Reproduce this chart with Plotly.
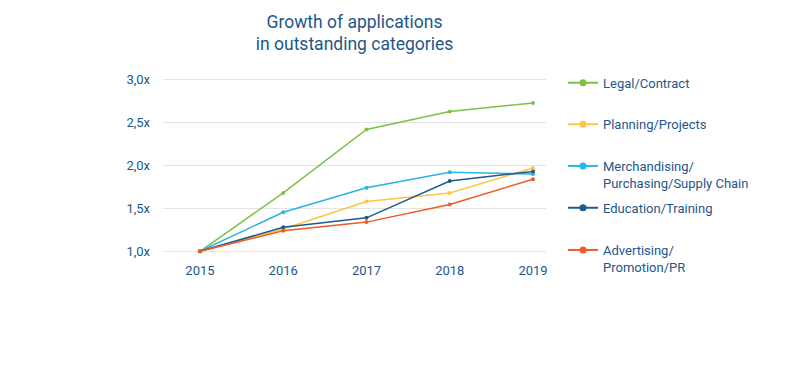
import plotly.graph_objects as go

years = [2015, 2016, 2017, 2018, 2019]
series_names = [
    "Legal/Contract",
    "Planning/Projects",
    "Merchandising/<br>Purchasing/Supply Chain",
    "Education/Training",
    "Advertising/<br>Promotion/PR",
]
legal = [1.0, 1.68, 2.42, 2.63, 2.73]
planning = [1.0, 1.26, 1.58, 1.68, 1.97]
merch = [1.0, 1.455, 1.74, 1.92, 1.90]
education = [1.0, 1.28, 1.39, 1.82, 1.93]
advertising = [1.0, 1.24, 1.34, 1.545, 1.84]
values = [legal, planning, merch, education, advertising]
colors = ["#7dc242", "#fdc542", "#29b4ea", "#1c5b8c", "#f05a24"]

text_color = "#1d578a"
font_family = "Roboto"

legend_y = [0.826, 0.719, 0.6118, 0.5046, 0.3959]

fig = go.Figure()
for i, (name, vals, col) in enumerate(zip(series_names, values, colors)):
    lg = "legend" if i == 0 else f"legend{i+1}"
    fig.add_trace(go.Scatter(
        x=years, y=vals, mode="lines+markers", name=name.replace("<br>", ""),
        line=dict(color=col, width=1.5), marker=dict(color=col, size=4),
        legendgroup=f"g{i}", showlegend=False, cliponaxis=False,
    ))
    # legend sample (no data points of its own)
    fig.add_trace(go.Scatter(
        x=[None], y=[None], mode="lines+markers", name=name,
        line=dict(color=col, width=2), marker=dict(color=col, size=7),
        legendgroup=f"g{i}", showlegend=True, legend=lg, hoverinfo="skip",
    ))

layout_legends = {}
for i, ly in enumerate(legend_y):
    key = "legend" if i == 0 else f"legend{i+1}"
    layout_legends[key] = dict(
        xref="container", yref="container",
        x=0.70375, xanchor="left", y=ly, yanchor="top",
        valign="top", bgcolor="rgba(0,0,0,0)",
        font=dict(family=font_family, size=13, color=text_color),
    )

fig.update_layout(
    width=800, height=389,
    margin=dict(l=163, r=254, t=78.3, b=136.3, autoexpand=False),
    paper_bgcolor="white", plot_bgcolor="white",
    separators=",.",
    font=dict(family=font_family, size=13, color=text_color),
    title=dict(
        text="Growth of applications<br>in outstanding categories",
        x=0.5, xref="paper", xanchor="center",
        y=1 - 27.5 / 389, yref="container", yanchor="middle",
        font=dict(family=font_family, size=17.5, color=text_color),
    ),
    xaxis=dict(
        range=[2014.556, 2019.156], tickmode="array", tickvals=years,
        ticktext=[str(y) for y in years], showgrid=False, zeroline=False,
        showline=False, ticks="", ticklabelstandoff=8,
        tickfont=dict(family=font_family, size=13, color=text_color),
    ),
    yaxis=dict(
        range=[0.98, 3.02], tick0=1.0, dtick=0.5, tickformat=".1f", ticksuffix="x",
        showgrid=True, gridcolor="#e4e4e4", gridwidth=1, zeroline=False,
        showline=False, ticks="", ticklabelstandoff=12,
        tickfont=dict(family=font_family, size=13, color=text_color),
    ),
    **layout_legends,
)

fig.write_html(
    "out.html",
    config={"displayModeBar": False},
    post_script="document.body.style.margin='0';",
)
